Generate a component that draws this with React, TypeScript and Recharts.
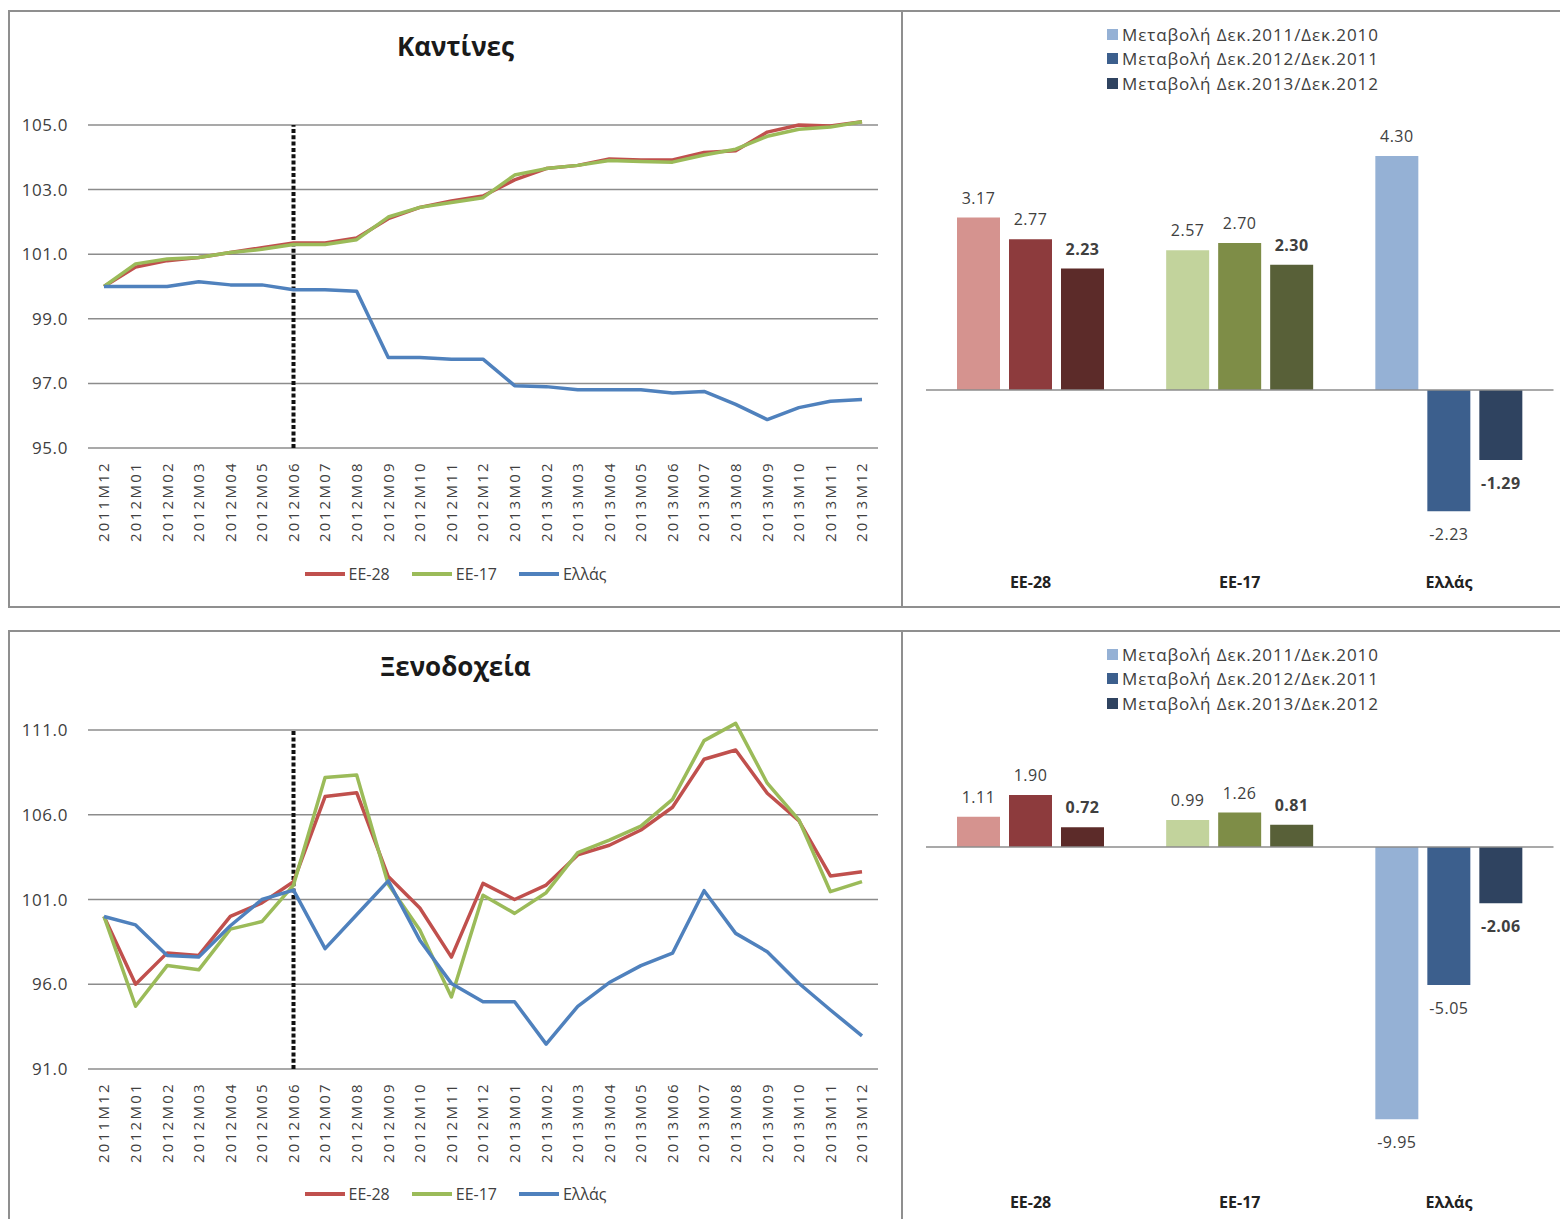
import React from 'react';
import {
  LineChart, Line, XAxis, YAxis, ReferenceLine, Legend,
  BarChart, Bar, Cell, LabelList,
} from 'recharts';

const FONT = "'Open Sans', 'Noto Sans', 'DejaVu Sans', sans-serif";
const TEXT = '#404040';

// ---------- line chart data ----------
const months = [
  '2011M12', '2012M01', '2012M02', '2012M03', '2012M04', '2012M05', '2012M06',
  '2012M07', '2012M08', '2012M09', '2012M10', '2012M11', '2012M12', '2013M01',
  '2013M02', '2013M03', '2013M04', '2013M05', '2013M06', '2013M07', '2013M08',
  '2013M09', '2013M10', '2013M11', '2013M12',
];
const lineNames = ['ΕΕ-28', 'ΕΕ-17', 'Ελλάς'];
const lineColors = ['#C0504D', '#9BBB59', '#4F81BD'];

const kantinesEE28 = [100.0, 100.6, 100.8, 100.9, 101.05, 101.2, 101.35, 101.35, 101.5, 102.1, 102.45, 102.65, 102.8, 103.3, 103.65, 103.75, 103.95, 103.92, 103.92, 104.15, 104.2, 104.78, 105.0, 104.97, 105.1];
const kantinesEE17 = [100.0, 100.7, 100.85, 100.9, 101.05, 101.15, 101.3, 101.3, 101.45, 102.15, 102.45, 102.6, 102.75, 103.45, 103.65, 103.75, 103.9, 103.87, 103.85, 104.07, 104.25, 104.65, 104.87, 104.94, 105.1];
const kantinesGR = [100.0, 100.0, 100.0, 100.15, 100.05, 100.05, 99.9, 99.9, 99.85, 97.8, 97.8, 97.75, 97.75, 96.93, 96.9, 96.8, 96.8, 96.8, 96.7, 96.75, 96.35, 95.88, 96.25, 96.45, 96.5];
const kantinesTicks = [95, 97, 99, 101, 103, 105];

const hotelsEE28 = [100.0, 96.0, 97.85, 97.7, 100.0, 100.8, 102.05, 107.07, 107.3, 102.35, 100.5, 97.6, 101.95, 101.0, 101.85, 103.63, 104.2, 105.1, 106.44, 109.27, 109.82, 107.27, 105.65, 102.39, 102.64];
const hotelsEE17 = [100.0, 94.7, 97.1, 96.85, 99.25, 99.7, 101.85, 108.2, 108.35, 101.9, 99.2, 95.25, 101.25, 100.18, 101.4, 103.76, 104.5, 105.33, 106.91, 110.37, 111.39, 107.86, 105.7, 101.46, 102.05];
const hotelsGR = [100.0, 99.5, 97.7, 97.6, 99.45, 101.0, 101.55, 98.1, 100.1, 102.1, 98.6, 96.05, 94.97, 94.97, 92.47, 94.7, 96.1, 97.1, 97.83, 101.52, 99.0, 97.92, 96.06, 94.48, 92.96];
const hotelsTicks = [91, 96, 101, 106, 111];

const markerMonth = '2012M06';

// ---------- bar chart data ----------
const barCategories = ['ΕΕ-28', 'ΕΕ-17', 'Ελλάς'];
const changeNames = [
  'Μεταβολή Δεκ.2011/Δεκ.2010',
  'Μεταβολή Δεκ.2012/Δεκ.2011',
  'Μεταβολή Δεκ.2013/Δεκ.2012',
];
const kantinesChange1 = [3.17, 2.57, 4.30];
const kantinesChange2 = [2.77, 2.70, -2.23];
const kantinesChange3 = [2.23, 2.30, -1.29];
const hotelsChange1 = [1.11, 0.99, -9.95];
const hotelsChange2 = [1.90, 1.26, -5.05];
const hotelsChange3 = [0.72, 0.81, -2.06];

const barPalette = [
  ['#D5938F', '#C2D39C', '#95B1D5'],
  ['#8D3B3D', '#7E8D47', '#3C5F8D'],
  ['#5C2B29', '#586038', '#2F4360'],
];
const legendBarColors = ['#95B1D5', '#3C5F8D', '#2F4360'];

// ---------- components ----------
const MonthTick = (props: any) => {
  const { x, y, payload } = props;
  return (
    <text
      transform={`translate(${x},${y + 13}) rotate(-90)`}
      textAnchor="end"
      dy="0.36em"
      fontSize={15}
      fill={TEXT}
      fontFamily={FONT}
      style={{ letterSpacing: 2.3 }}
    >
      {payload.value}
    </text>
  );
};

const LineLegend = (props: any) => {
  const payload = [...(props.payload || [])].sort(
    (p: any, q: any) => lineNames.indexOf(p.value) - lineNames.indexOf(q.value)
  );
  return (
    <div style={{ display: 'flex', justifyContent: 'center', alignItems: 'center', fontFamily: FONT, fontSize: 16, color: TEXT }}>
      {payload.map((p: any, i: number) => (
        <div key={i} style={{ display: 'flex', alignItems: 'center', marginRight: i < payload.length - 1 ? 22 : 0 }}>
          <span style={{ display: 'inline-block', width: 40, height: 4, background: p.color, marginRight: 4 }} />
          <span>{p.value}</span>
        </div>
      ))}
    </div>
  );
};

function LinePanel(props: any) {
  const { left, top, title, a, b, c, domain, ticks, marginTop, marginBottom } = props;
  const data = months.map((m, i) => ({ month: m, a: a[i], b: b[i], c: c[i] }));
  return (
    <div style={{ position: 'absolute', left, top, width: 893, height: 596 }}>
      <div style={{ position: 'absolute', left: 0, top: 18, width: 893, textAlign: 'center', fontFamily: FONT, fontWeight: 700, fontSize: 26, lineHeight: '34px', color: '#1a1a1a' }}>
        {title}
      </div>
      <LineChart width={893} height={596} data={data} margin={{ top: marginTop, right: 24, bottom: marginBottom, left: 0 }}>
        <XAxis dataKey="month" interval={0} tick={<MonthTick />} tickLine={false} axisLine={false} tickSize={0} tickMargin={0} height={100} padding={{ left: 16, right: 16 }} />
        <YAxis
          domain={domain}
          ticks={ticks}
          width={79}
          tickLine={false}
          axisLine={false}
          tickSize={0}
          tickMargin={20}
          tickFormatter={(v: number) => v.toFixed(1)}
          tick={{ fill: TEXT, fontSize: 17, fontFamily: FONT, style: { letterSpacing: 0.6 } }}
        />
        {ticks.map((t: number) => (
          <ReferenceLine key={t} y={t} stroke="#8c8c8c" strokeWidth={1.5} />
        ))}
        <ReferenceLine
          segment={[{ x: markerMonth, y: ticks[0] }, { x: markerMonth, y: ticks[ticks.length - 1] }]}
          stroke="#111"
          strokeWidth={4}
          strokeDasharray="4 2.3"
        />
        <Line type="linear" dataKey="a" name={lineNames[0]} stroke={lineColors[0]} strokeWidth={3.5} dot={false} activeDot={false} isAnimationActive={false} strokeLinejoin="round" />
        <Line type="linear" dataKey="b" name={lineNames[1]} stroke={lineColors[1]} strokeWidth={3.5} dot={false} activeDot={false} isAnimationActive={false} strokeLinejoin="round" />
        <Line type="linear" dataKey="c" name={lineNames[2]} stroke={lineColors[2]} strokeWidth={3.5} dot={false} activeDot={false} isAnimationActive={false} strokeLinejoin="round" />
        <Legend layout="horizontal" verticalAlign="middle" align="center" wrapperStyle={{ top: 552, left: 0, width: 893 }} content={<LineLegend />} />
      </LineChart>
    </div>
  );
}

const BarLegend = (props: any) => {
  const payload = [...(props.payload || [])].sort(
    (p: any, q: any) => changeNames.indexOf(p.value) - changeNames.indexOf(q.value)
  );
  return (
    <div style={{ fontFamily: FONT, fontSize: 17, color: TEXT, letterSpacing: 0.9 }}>
      {payload.map((p: any, i: number) => (
        <div key={i} style={{ display: 'flex', alignItems: 'center', height: 24.5, whiteSpace: 'nowrap' }}>
          <span style={{ display: 'inline-block', width: 11, height: 11, background: legendBarColors[changeNames.indexOf(p.value)] || p.color, marginRight: 4 }} />
          <span>{p.value}</span>
        </div>
      ))}
    </div>
  );
};

const makeBarLabel = (bold: boolean) => (props: any) => {
  const { x, y, width, height, value } = props;
  const yy = Number(y);
  const hh = Number(height);
  const topEdge = Math.min(yy, yy + hh);
  const bottomEdge = Math.max(yy, yy + hh);
  const cx = Number(x) + Number(width) / 2;
  const v = Number(value);
  const ty = v >= 0 ? topEdge - 14 : bottomEdge + 29;
  return (
    <text x={cx} y={ty} textAnchor="middle" fontSize={16} fontWeight={bold ? 700 : 400} fill={TEXT} fontFamily={FONT} style={{ letterSpacing: 0.5 }}>
      {v.toFixed(2)}
    </text>
  );
};

function BarPanel(props: any) {
  const { left, top, s1, s2, s3, domain, marginTop, marginBottom, catCenter } = props;
  const data = barCategories.map((cat, i) => ({ cat, s1: s1[i], s2: s2[i], s3: s3[i] }));
  const CatTick = (tp: any) => (
    <text x={tp.x} y={catCenter + 6} textAnchor="middle" fontSize={16} fontWeight={700} fill="#222" fontFamily={FONT}>
      {tp.payload.value}
    </text>
  );
  const keys = ['s1', 's2', 's3'];
  return (
    <div style={{ position: 'absolute', left, top, width: 658, height: 596 }}>
      <BarChart width={658} height={596} data={data} barSize={43} barGap={9} margin={{ top: marginTop, right: 6.5, bottom: marginBottom, left: 24 }}>
        <XAxis dataKey="cat" tick={<CatTick />} tickLine={false} axisLine={false} tickSize={0} tickMargin={0} height={30} interval={0} />
        <YAxis hide domain={domain} />
        <ReferenceLine y={0} stroke="#8c8c8c" strokeWidth={1.5} />
        {keys.map((k, si) => (
          <Bar key={k} dataKey={k} name={changeNames[si]} fill={legendBarColors[si]} isAnimationActive={false}>
            {data.map((_, ci) => (
              <Cell key={ci} fill={barPalette[si][ci]} />
            ))}
            <LabelList dataKey={k} content={makeBarLabel(si === 2)} />
          </Bar>
        ))}
        <Legend layout="horizontal" verticalAlign="middle" align="center" wrapperStyle={{ top: 11, left: 205, width: 'auto' }} content={<BarLegend />} />
      </BarChart>
    </div>
  );
}

const border = '2px solid #8f8f8f';

export default function App() {
  return (
    <div style={{ position: 'fixed', left: 0, top: 0, width: 1560, height: 1219, overflow: 'hidden', background: '#fff' }}>
      {/* panel frames */}
      <div style={{ position: 'absolute', left: 8, top: 10, width: 895, height: 598, border, boxSizing: 'border-box' }} />
      <div style={{ position: 'absolute', left: 901, top: 10, width: 700, height: 598, border, boxSizing: 'border-box' }} />
      <div style={{ position: 'absolute', left: 8, top: 630, width: 895, height: 700, border, boxSizing: 'border-box' }} />
      <div style={{ position: 'absolute', left: 901, top: 630, width: 700, height: 700, border, boxSizing: 'border-box' }} />

      <LinePanel left={9} top={11} title="Καντίνες" a={kantinesEE28} b={kantinesEE17} c={kantinesGR}
        domain={[95, 105.3]} ticks={kantinesTicks} marginTop={104.3} marginBottom={59} />
      <LinePanel left={9} top={631} title="Ξενοδοχεία" a={hotelsEE28} b={hotelsEE17} c={hotelsGR}
        domain={[91, 111.6]} ticks={hotelsTicks} marginTop={88.8} marginBottom={58} />

      <BarPanel left={902} top={11} s1={kantinesChange1} s2={kantinesChange2} s3={kantinesChange3}
        domain={[-3, 5]} marginTop={107} marginBottom={24} catCenter={571} />
      <BarPanel left={902} top={631} s1={hotelsChange1} s2={hotelsChange2} s3={hotelsChange3}
        domain={[-12, 5]} marginTop={79.25} marginBottom={21.8} catCenter={571} />
    </div>
  );
}
